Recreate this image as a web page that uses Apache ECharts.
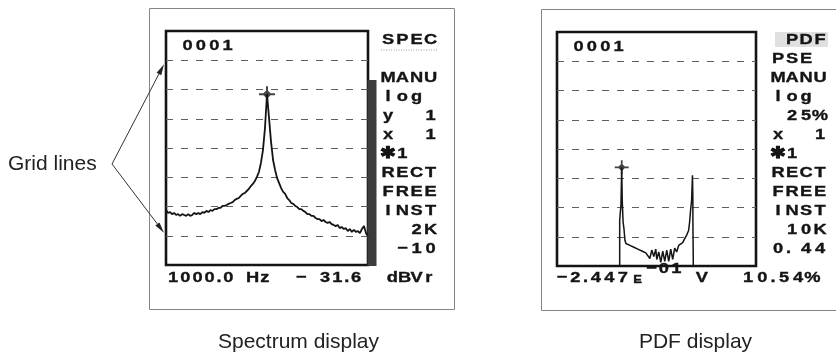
<!DOCTYPE html>
<html>
<head>
<meta charset="utf-8">
<script src="https://cdn.jsdelivr.net/npm/echarts@6/dist/echarts.min.js"></script>
<style>
  html, body { margin: 0; padding: 0; background: #ffffff; }
  #c { width: 836px; height: 353px; }
</style>
</head>
<body>
<div id="c"></div>
<script>
// ---- Spectrum trace: FFT bins from 0 Hz, 20 Hz apart, level in dBV ----
const specStartHz = 0;
const specStepHz = 20;
const specLevelDbv = [
  -71.2, -72.2, -71.9, -72.6, -72.2, -72.9, -72.6, -73.2, -72.6, -72.9,
  -73.2, -72.6, -73.2, -72.9, -72.2, -72.6, -72.2, -72.6, -71.9, -72.2,
  -71.5, -71.9, -71.2, -71.5, -70.9, -70.9, -70.5, -70.5, -69.8, -69.8,
  -69.5, -69.1, -68.8, -68.5, -67.8, -67.4, -67.1, -66.4, -65.7, -65.4,
  -64.7, -64.0, -63.0, -62.3, -61.3, -59.9, -58.2, -55.1, -50.7, -43.2,
  -31.6, -39.7, -47.9, -54.1, -57.5, -60.3, -62.0, -63.7, -65.0, -65.7,
  -67.1, -67.8, -68.8, -69.1, -69.8, -70.2, -70.9, -70.9, -71.5, -71.9,
  -72.6, -72.6, -73.2, -73.2, -73.9, -74.3, -74.3, -75.0, -74.6, -75.3,
  -75.6, -75.3, -76.0, -76.3, -76.7, -76.3, -77.4, -77.0, -77.7, -77.4,
  -78.4, -77.7, -78.7, -78.0, -78.7, -78.4, -79.1, -77.7, -76.7, -79.1,
  -80.1
];
const specSpanHz = [0, 2000];
const specRefDbv = -10;        // top of screen
const specDbPerDiv = 10;
const specDivisions = 8;
const specCursorHz = 1000;
const specCursorDbv = -31.6;

// ---- Amplitude probability density trace ----
const pdfVolts = [
  -0.259, -0.259, -0.250, -0.250, -0.2447, -0.241, -0.239, -0.235, -0.229, -0.222,
  -0.215, -0.201, -0.187, -0.173, -0.159, -0.145, -0.131, -0.117, -0.103, -0.089,
  -0.075, -0.061, -0.047, -0.033, -0.019, -0.005, 0.002, 0.016, 0.030, 0.044,
  0.058, 0.072, 0.086, 0.100, 0.114, 0.128, 0.142, 0.156, 0.170, 0.184,
  0.198, 0.212, 0.226, 0.233, 0.240, 0.247, 0.253, 0.256, 0.256, 0.259,
  0.259
];
const pdfPercent = [
  0, 4.9, 4.9, 6.5, 10.54, 7.0, 6.2, 4.7, 4.0, 2.75,
  2.4, 2.5, 2.2, 2.4, 2.0, 2.2, 1.8, 2.0, 1.6, 1.8,
  1.4, 1.6, 0.8, 1.7, 1.0, 1.8, 0.7, 1.5, 0.4, 1.6,
  0.5, 1.7, 0.5, 1.8, 0.7, 1.9, 1.5, 2.2, 2.1, 2.5,
  2.9, 3.3, 3.8, 4.7, 6.0, 7.0, 9.7, 7.0, 4.9, 4.9,
  0
];
const pdfSpanVolts = [-0.7, 0.7];
const pdfFullScalePercent = 25;
const pdfDivisions = 8;
const pdfCursorVolts = -0.2447;
const pdfCursorPercent = 10.54;

// ---- Screen annotations ----
const specSideLines = ['SPEC', '', 'MANU', 'log', 'y  1', 'x  1', '\u27311', 'RECT', 'FREE', 'INST', '  2K', ' \u221210'];
const pdfSideLines  = [' PDF', 'PSE', 'MANU', 'log', ' 25%', 'x  1', '\u27311', 'RECT', 'FREE', 'INST', ' 10K', '0. 44'];
const frameNumber = '0001';
const calloutLabel = 'Grid lines';
const specCaption = 'Spectrum display';
const pdfCaption = 'PDF display';

const INK = '#141414';
const SCREEN_FONT = 'Liberation Sans';
const SCREEN_SIZE = 15.5;
const SX = 1.18;   // horizontal stretch of the screen lettering

const chart = echarts.init(document.getElementById('c'), null, { renderer: 'canvas' });

const specData = specLevelDbv.map((v, i) => [specStartHz + i * specStepHz, v]);
const pdfData = pdfVolts.map((v, i) => [v, pdfPercent[i]]);

const markerPath = 'path://M0,7H16V9H0Z M7,0H9V16H7Z M8,3.5L12.5,8L8,12.5L3.5,8Z';

const dashed = { show: true, showMinLine: false, showMaxLine: false,
  lineStyle: { color: '#5e5e5e', width: 1, type: [7, 8] } };
const hiddenParts = { axisLine: { show: false }, axisTick: { show: false }, axisLabel: { show: false } };

chart.setOption({
  animation: false,
  backgroundColor: '#ffffff',
  grid: [
    { left: 166, top: 31, width: 202, height: 234, show: true, borderColor: INK, borderWidth: 2.6, backgroundColor: 'transparent' },
    { left: 557, top: 32, width: 199, height: 234, show: true, borderColor: INK, borderWidth: 2.6, backgroundColor: 'transparent' }
  ],
  xAxis: [
    Object.assign({ type: 'value', gridIndex: 0, min: specSpanHz[0], max: specSpanHz[1], splitLine: { show: false } }, hiddenParts),
    Object.assign({ type: 'value', gridIndex: 1, min: pdfSpanVolts[0], max: pdfSpanVolts[1], splitLine: { show: false } }, hiddenParts)
  ],
  yAxis: [
    Object.assign({ type: 'value', gridIndex: 0,
      min: specRefDbv - specDbPerDiv * specDivisions, max: specRefDbv, interval: specDbPerDiv,
      splitLine: dashed }, hiddenParts),
    Object.assign({ type: 'value', gridIndex: 1,
      min: 0, max: pdfFullScalePercent, interval: pdfFullScalePercent / pdfDivisions,
      splitLine: dashed }, hiddenParts)
  ],
  series: [
    { type: 'line', xAxisIndex: 0, yAxisIndex: 0, data: specData, symbol: 'none',
      lineStyle: { color: INK, width: 1.8 }, clip: true, z: 3 },
    { type: 'scatter', xAxisIndex: 0, yAxisIndex: 0, data: [[specCursorHz, specCursorDbv]],
      symbol: markerPath, symbolSize: 16, itemStyle: { color: INK }, z: 4 },
    { type: 'line', xAxisIndex: 1, yAxisIndex: 1, data: pdfData, symbol: 'none',
      lineStyle: { color: INK, width: 1.5 }, clip: true, z: 3 },
    { type: 'scatter', xAxisIndex: 1, yAxisIndex: 1, data: [[pdfCursorVolts, pdfCursorPercent]],
      symbol: markerPath, symbolSize: 14, itemStyle: { color: INK }, z: 4 }
  ]
});

// Spaced, stretched lettering laid out in fixed character cells
function screenText(str, x, y, opt) {
  opt = opt || {};
  const cell = opt.cell || 14.2;
  const dot = opt.dot || cell * 0.5;
  const space = opt.space || cell;
  const size = opt.size || SCREEN_SIZE;
  const rich = {};
  let text = '';
  for (const ch of str) {
    const w = ch === '.' ? dot : (ch === ' ' ? space : cell);
    const key = 'w' + Math.round(w * 10);
    if (!rich[key]) {
      rich[key] = { width: w / SX, align: 'center', fontFamily: SCREEN_FONT,
        fontWeight: 'bold', fontSize: size, fill: INK, stroke: INK, lineWidth: 0.35 };
    }
    text += '{' + key + '|' + ch + '}';
  }
  return { type: 'text', x: x, y: y, scaleX: SX, silent: true, z: 10,
    style: { text: text, rich: rich, textAlign: opt.align || 'left', textVerticalAlign: 'middle',
      fontFamily: SCREEN_FONT, fontWeight: 'bold', fontSize: size, fill: INK } };
}

function arrow(x0, y0, x1, y1) {
  const a = Math.atan2(y1 - y0, x1 - x0);
  const L = 11, W = 2.6;
  const bx = x1 - L * Math.cos(a), by = y1 - L * Math.sin(a);
  const px = -Math.sin(a) * W, py = Math.cos(a) * W;
  return [
    { type: 'line', silent: true, shape: { x1: x0, y1: y0, x2: bx, y2: by }, style: { stroke: '#333', lineWidth: 1 } },
    { type: 'polygon', silent: true, shape: { points: [[x1, y1], [bx + px, by + py], [bx - px, by - py]] }, style: { fill: '#222' } }
  ];
}

const rowY = i => 39.5 + 19.0 * i;
const els = [];

// outer panel frames
els.push({ type: 'rect', silent: true, shape: { x: 149.5, y: 8.5, width: 305, height: 301 }, style: { fill: 'none', stroke: '#858585', lineWidth: 1 } });
els.push({ type: 'rect', silent: true, shape: { x: 541.5, y: 9.5, width: 310, height: 301 }, style: { fill: 'none', stroke: '#858585', lineWidth: 1 } });

// level bar beside the spectrum screen
els.push({ type: 'rect', silent: true, shape: { x: 367.5, y: 80, width: 9, height: 186 }, style: { fill: '#3c3c3c' } });

// mode highlights
els.push({ type: 'line', silent: true, shape: { x1: 381, y1: 50, x2: 438, y2: 50 }, style: { stroke: '#9a9a9a', lineWidth: 1, lineDash: [1, 1.5] } });
els.push({ type: 'rect', silent: true, shape: { x: 775, y: 32, width: 53, height: 15 }, style: { fill: '#e0e0e0' } });

// frame counters
els.push(screenText(frameNumber, 181, 45.5, { cell: 13.3 }));
els.push(screenText(frameNumber, 572, 47, { cell: 13.3 }));

// side columns
specSideLines.forEach((s, i) => { if (s) els.push(screenText(s, 381, rowY(i), { cell: 14.2 })); });
pdfSideLines.forEach((s, i) => { if (s) els.push(screenText(s, 771, rowY(i), { cell: 14, space: s.indexOf('.') >= 0 ? 7 : 14 })); });

// cursor readouts
const specReadout = specCursorHz.toFixed(1) + ' Hz  \u2212 ' + Math.abs(specCursorDbv).toFixed(1) + '  dBVr';
els.push(screenText(specReadout, 167, 278, { cell: 12.2, dot: 6.5, space: 12 }));

const pdfExp = Math.floor(Math.log10(Math.abs(pdfCursorVolts)));
const pdfMant = pdfCursorVolts / Math.pow(10, pdfExp);
const expStr = (pdfExp < 0 ? '\u2212' : '') + String(Math.abs(pdfExp)).padStart(2, '0');
els.push(screenText((pdfMant < 0 ? '\u2212' : '') + Math.abs(pdfMant).toFixed(3), 555, 277.5, { cell: 13.5, dot: 7 }));
els.push(screenText('E', 633, 279.5, { cell: 9, size: 11 }));
els.push(screenText(expStr, 645, 269, { cell: 12.5 }));
els.push(screenText('V', 695, 277.5, { cell: 13.5 }));
els.push(screenText(pdfCursorPercent.toFixed(2) + '%', 741, 277.5, { cell: 14.2, dot: 7.5 }));

// captions
els.push({ type: 'text', silent: true, x: 298.5, y: 342, style: { text: specCaption, textAlign: 'center', textVerticalAlign: 'middle', fontFamily: 'Liberation Sans', fontSize: 21, fill: '#222' } });
els.push({ type: 'text', silent: true, x: 695.5, y: 342, style: { text: pdfCaption, textAlign: 'center', textVerticalAlign: 'middle', fontFamily: 'Liberation Sans', fontSize: 21, fill: '#222' } });

// callout pointing at the first and last grid lines
const gx = chart.convertToPixel({ xAxisIndex: 0 }, specSpanHz[0]);
const gTop = chart.convertToPixel({ yAxisIndex: 0 }, specRefDbv - specDbPerDiv);
const gBot = chart.convertToPixel({ yAxisIndex: 0 }, specRefDbv - specDbPerDiv * (specDivisions - 1));
els.push({ type: 'text', silent: true, x: 8, y: 164, style: { text: calloutLabel, textAlign: 'left', textVerticalAlign: 'middle', fontFamily: 'Liberation Sans', fontSize: 21, fill: '#222' } });
arrow(112, 164, gx - 2, gTop + 4).forEach(e => els.push(e));
arrow(112, 164, gx - 2, gBot - 3).forEach(e => els.push(e));

chart.setOption({ graphic: { elements: els } });
</script>
</body>
</html>
